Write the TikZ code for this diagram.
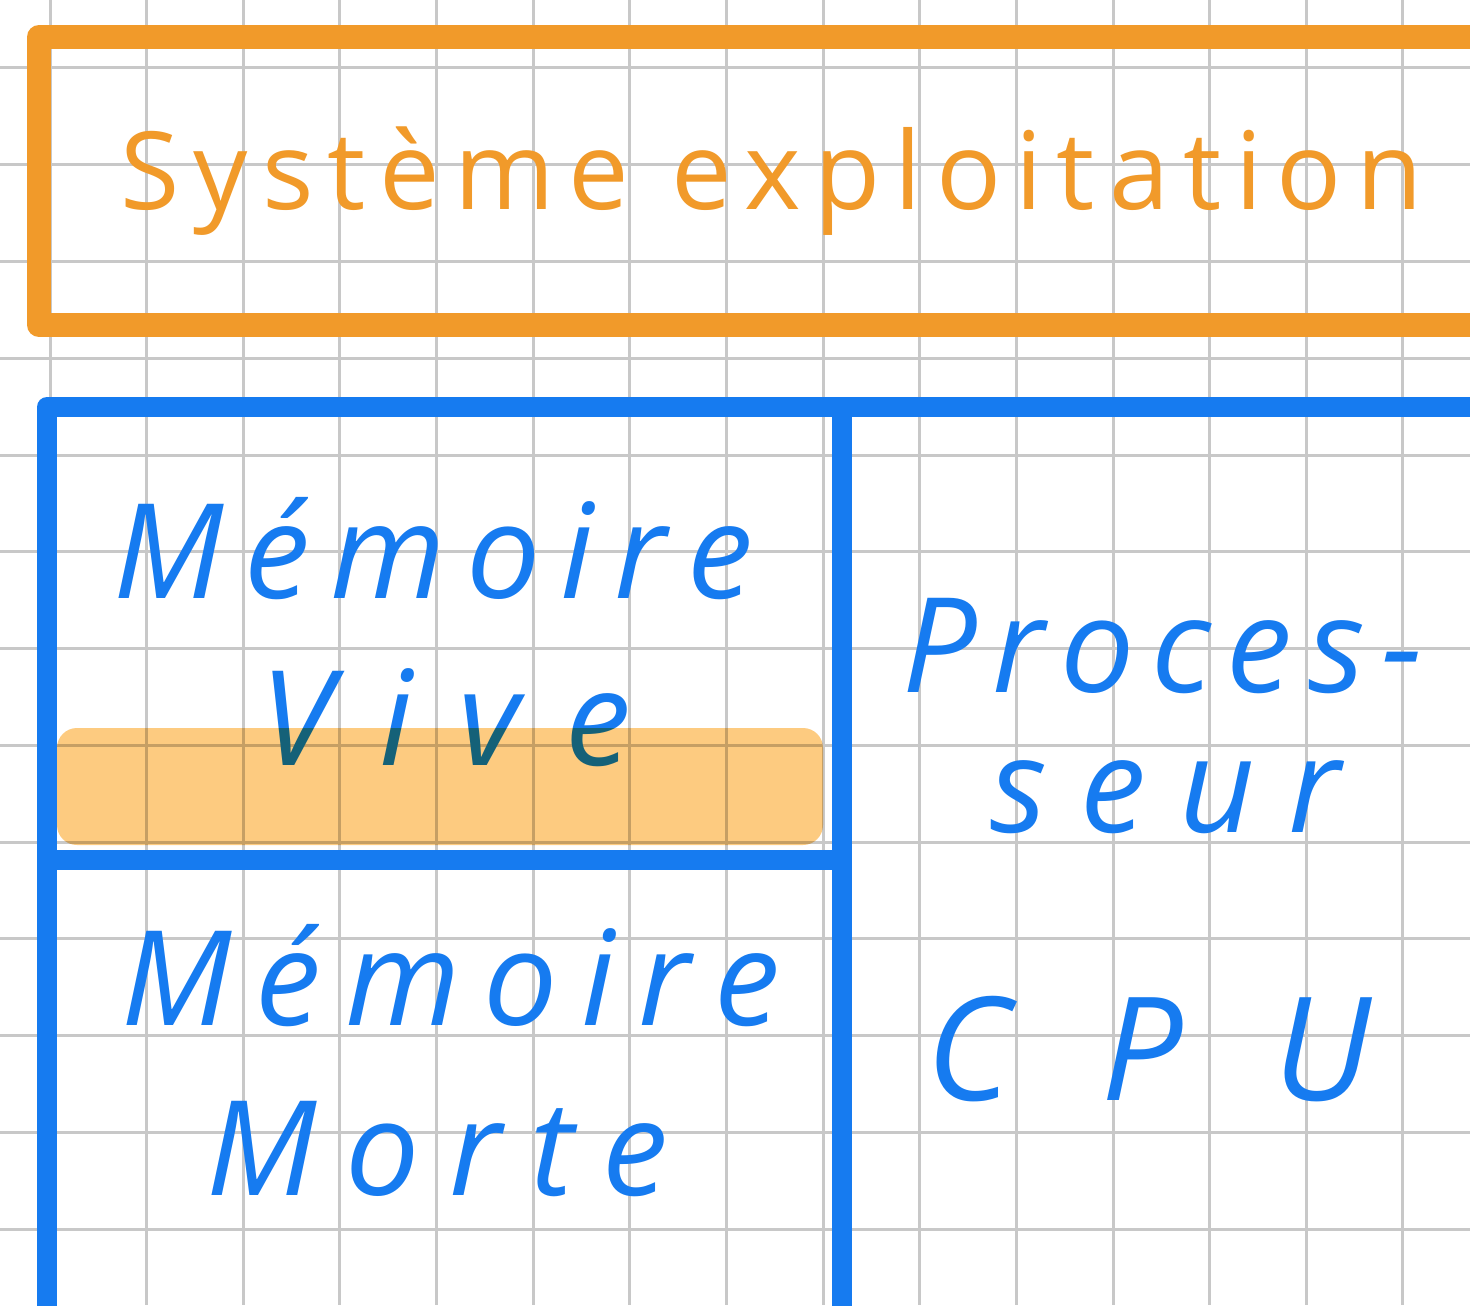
\documentclass[tikz,border=0pt]{standalone}
\usepackage{fontspec}
\newfontfamily\hand{Open Sans}
\definecolor{gridgray}{RGB}{200,200,200}
\definecolor{osorange}{RGB}{241,154,42}
\definecolor{hwblue}{RGB}{22,123,240}
\definecolor{marker}{RGB}{253,203,128}
\tikzset{
  gridline/.style={draw=gridgray, line width=1.5pt},
  osframe/.style={draw=osorange, line width=12pt, line join=round},
  hwframe/.style={draw=hwblue, line width=10pt, line join=round},
  highlight/.style={fill=marker, rounded corners=10pt, blend mode=multiply},
  orangetext/.style={text=osorange, inner sep=0pt, anchor=base west,
    font=\hand\fontsize{54pt}{60pt}\selectfont},
  bluetext/.style={text=hwblue, inner sep=0pt, anchor=base west,
    font=\hand\itshape\fontsize{66pt}{72pt}\selectfont},
}
\newcommand{\spaced}[2]{\addfontfeature{LetterSpace=#1}#2}
\begin{document}
\begin{tikzpicture}[x=0.5pt, y=-0.5pt]
  \useasboundingbox (0,0) rectangle (1470,1305);
  \clip (0,0) rectangle (1470,1305);
  \fill[white] (0,0) rectangle (1470,1305);

  % squared paper
  \foreach \i in {0,...,14}
    \draw[gridline] ({50+96.64*\i},0) -- ({50+96.64*\i},1305);
  \foreach \j in {0,...,12}
    \draw[gridline] (0,{68+96.75*\j}) -- (1470,{68+96.75*\j});

  % operating system frame
  \draw[osframe] (1520,37) -- (39,37) -- (39,325) -- (1520,325);
  \node[orangetext] (os) at (120,210) {\spaced{13}{Système exploitation}};

  % hardware frame: RAM / ROM on the left, processor on the right
  \coordinate (tl) at (47,407);
  \coordinate (tr) at (1520,407);
  \coordinate (bl) at (47,1360);
  \coordinate (divtop) at (842,407);
  \coordinate (divbot) at (842,1360);
  \coordinate (midl) at (47,860);
  \coordinate (midr) at (842,860);
  \draw[hwframe] (bl) -- (tl) -- (tr);
  \draw[hwframe] (divtop) -- (divbot);
  \draw[hwframe] (midl) -- (midr);

  \node[bluetext] (ram1) at (113,598) {\spaced{15.5}{Mémoire}};
  \node[bluetext] (ram2) at (260,765) {\spaced{35}{Vive}};
  \node[bluetext] (cpu1) at (902,692) {\spaced{12}{Proces-}};
  \node[bluetext] (cpu2) at (990,832) {\spaced{25}{seur}};
  \node[bluetext] (rom1) at (121,1025) {\spaced{18}{Mémoire}};
  \node[bluetext] (rom2) at (206,1195) {\spaced{22}{Morte}};
  \node[bluetext, font=\hand\itshape\fontsize{72pt}{78pt}\selectfont]
    (cpu3) at (926,1100) {\spaced{63}{CPU}};

  % marker stroke across the RAM cell
  \path[highlight] (57,728) rectangle (823,845);
\end{tikzpicture}
\end{document}
